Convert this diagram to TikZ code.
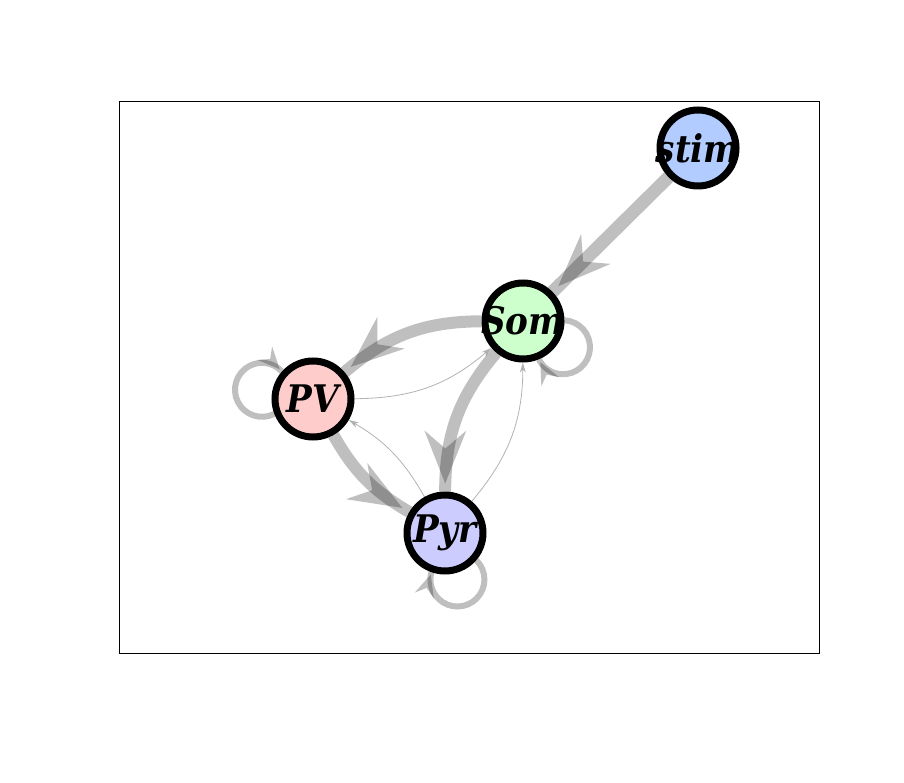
\documentclass[tikz,border=0pt]{standalone}
\usepackage{fontspec}
\setmainfont{DejaVu Serif}
\newfontfamily\popfont{DejaVu Serif Condensed}
\usetikzlibrary{arrows.meta,backgrounds}
\definecolor{cstim}{RGB}{179,204,255}
\definecolor{csom}{RGB}{204,255,204}
\definecolor{cpv}{RGB}{255,204,204}
\definecolor{cpyr}{RGB}{204,204,255}
\tikzset{
  pop/.style={circle, draw=black, line width=7pt, minimum size=76pt, inner sep=0pt,
    font=\popfont\fontsize{38}{44}\selectfont\bfseries\itshape},
  thickline/.style={draw=black, opacity=0.25, line width=#1},
  thickhead/.style={draw=black, opacity=0.25, line width=0.1pt, line cap=butt,
    dash pattern=on 0pt off 3000pt, shorten >=8pt,
    -{Stealth[length=53pt, width=42pt, inset=18pt, line width=0pt]}},
  thinedge/.style={draw=black, opacity=0.3, line width=0.8pt,
    -{Stealth[length=10pt, width=6pt, inset=3pt, line width=0pt]}},
  loopedge/.style={draw=black, opacity=0.25, line width=6pt},
  loophead/.style={draw=black, opacity=0.25, line width=0.1pt, line cap=butt,
    dash pattern=on 0pt off 3000pt, shorten >=3pt,
    -{Stealth[length=22pt, width=20pt, inset=8pt, line width=0pt]}},
}
\begin{document}
\begin{tikzpicture}[x=1pt,y=1pt]
\useasboundingbox (0,0) rectangle (904,782);
\draw[line width=0.8pt] (119,129) rectangle (819,681);
\node[pop, fill=cstim] (stim) at (698,634) {\makebox[0pt]{stim}};
\node[pop, fill=csom] (Som) at (523,461) {\makebox[0pt]{Som}};
\node[pop, fill=cpv] (PV) at (313,383) {\makebox[0pt]{PV}};
\node[pop, fill=cpyr] (Pyr) at (445,249) {\makebox[0pt]{Pyr}};
\begin{scope}[on background layer]
\draw[thickline=13pt] (stim) -- (Som);
\draw[thickhead] (stim) -- (Som);
\draw[thickline=12pt] (Som) to[bend right=20] (PV);
\draw[thickhead] (Som) to[bend right=20] (PV);
\draw[thickline=12pt] (Som) to[bend right=20] (Pyr);
\draw[thickhead] (Som) to[bend right=20] (Pyr);
\draw[thickline=12pt] (PV) to[bend right=15] (Pyr);
\draw[thickhead] (PV) to[bend right=15] (Pyr);
\draw[thinedge] (PV) to[bend right=20] (Som);
\draw[thinedge] (Pyr) to[bend right=20] (Som);
\draw[thinedge] (Pyr) to[bend right=15] (PV);
\draw[loopedge] (PV.201.3) arc[start angle=-63, end angle=-317.1, radius=27pt];
\draw[loophead] (PV.201.3) arc[start angle=-63, end angle=-317.1, radius=27pt];
\draw[loopedge] (Som.1.4) arc[start angle=86.8, end angle=-153, radius=27pt];
\draw[loophead] (Som.1.4) arc[start angle=86.8, end angle=-153, radius=27pt];
\draw[loopedge] (Pyr.-41.9) arc[start angle=45.6, end angle=-197, radius=27pt];
\draw[loophead] (Pyr.-41.9) arc[start angle=45.6, end angle=-197, radius=27pt];
\end{scope}
\end{tikzpicture}
\end{document}
